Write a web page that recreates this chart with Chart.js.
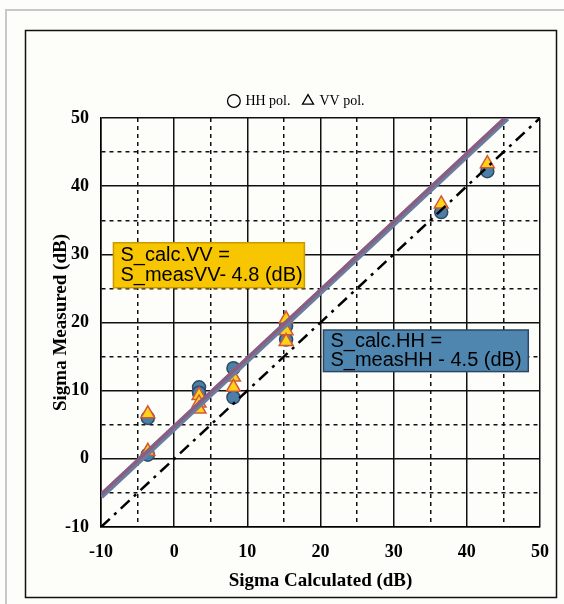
<!DOCTYPE html>
<html>
<head>
<meta charset="utf-8">
<script src="https://cdn.jsdelivr.net/npm/chart.js@4.4.0/dist/chart.umd.min.js"></script>
<style>
  html, body { margin: 0; padding: 0; background: #ffffff; }
  #wrap { width: 564px; height: 604px; }
</style>
</head>
<body>
<div id="wrap"><canvas id="chart" width="564" height="604"></canvas></div>
<script>
// Datos
const hhX = [-3.6, -3.6, 3.4, 3.4, 8.1, 8.1, 15.3, 15.3, 36.5, 42.8];
const hhY = [6.0, 0.6, 10.5, 9.7, 13.3, 9.0, 19.5, 17.5, 36.2, 42.2];
const vvX = [-3.6, -3.6, 3.4, 3.4, 3.4, 8.1, 8.1, 15.3, 15.3, 15.3, 36.5, 42.8];
const vvY = [6.6, 1.1, 9.3, 8.2, 7.3, 12.0, 10.5, 20.5, 18.8, 17.2, 37.4, 43.3];

// Rectas de ajuste (S_calc = S_meas - offset) y recta 1:1
const fitHHX = [-10, 45.5];
const fitHHY = [-5.5, 50];
const fitVVX = [-10, 45.2];
const fitVVY = [-5.2, 50];
const idX = [-10, 50];
const idY = [-10, 50];

const axisMin = -10;
const axisMax = 50;

const seriesNames = ['HH pol.', 'VV pol.'];
const noteVV = ['S_calc.VV =', 'S_measVV- 4.8 (dB)'];
const noteHH = ['S_calc.HH =', 'S_measHH - 4.5 (dB)'];

function toPoints(xs, ys) {
    return xs.map((x, i) => ({ x: x, y: ys[i] }));
}

// Fondo y marcos de la página
const framePlugin = {
    id: 'frame',
    beforeDraw(chart) {
        const c = chart.ctx;
        c.save();
        c.fillStyle = '#fdfdf9';
        c.fillRect(0, 0, chart.width, chart.height);
        c.strokeStyle = '#c8c8c8';
        c.lineWidth = 2;
        c.beginPath();
        c.moveTo(6, chart.height);
        c.lineTo(6, 10);
        c.lineTo(chart.width, 10);
        c.stroke();
        c.strokeStyle = '#111';
        c.lineWidth = 1.5;
        c.strokeRect(25.5, 30.5, 531, 567);
        c.restore();
    }
};

// Cajas de texto con las ecuaciones
function drawNote(chart, lines, x0, x1, y0, y1, fill, border) {
    const c = chart.ctx;
    const sx = chart.scales.x, sy = chart.scales.y;
    const l = sx.getPixelForValue(x0), r = sx.getPixelForValue(x1);
    const t = sy.getPixelForValue(y0), b = sy.getPixelForValue(y1);
    c.save();
    c.fillStyle = fill;
    c.fillRect(l, t, r - l, b - t);
    c.strokeStyle = border;
    c.lineWidth = 1.5;
    c.strokeRect(l, t, r - l, b - t);
    c.fillStyle = '#000';
    c.font = '20px "Liberation Sans", Arial, sans-serif';
    c.textBaseline = 'middle';
    c.fillText(lines[0], l + 7, t + (b - t) * 0.28);
    c.fillText(lines[1], l + 7, t + (b - t) * 0.73);
    c.restore();
}

const notesPlugin = {
    id: 'notes',
    afterDraw(chart) {
        drawNote(chart, noteVV, -8.3, 17.8, 31.7, 25.1, '#f7c600', '#c99a00');
        drawNote(chart, noteHH, 20.4, 48.4, 18.9, 12.8, '#4f86b0', '#2b4763');
    }
};

const serif = '"Liberation Serif", "Times New Roman", serif';

function gridDash(ctx) {
    if (!ctx.tick) return [];
    return ctx.tick.value % 10 === 0 ? [] : [4, 4];
}

new Chart(document.getElementById('chart'), {
    type: 'scatter',
    data: {
        datasets: [
            {
                label: 'fitVV',
                data: toPoints(fitVVX, fitVVY),
                showLine: true,
                borderColor: '#8a5e80',
                borderWidth: 3.5,
                pointRadius: 0
            },
            {
                label: 'fitHH',
                data: toPoints(fitHHX, fitHHY),
                showLine: true,
                borderColor: '#6a7ca0',
                borderWidth: 6,
                pointRadius: 0
            },
            {
                label: 'identity',
                data: toPoints(idX, idY),
                showLine: true,
                borderColor: '#000',
                borderWidth: 2.5,
                borderDash: [12, 6, 3, 6],
                pointRadius: 0
            },
            {
                label: seriesNames[1],
                data: toPoints(vvX, vvY),
                pointStyle: 'triangle',
                pointRadius: 8,
                backgroundColor: '#ffd21a',
                borderColor: '#d0583a',
                borderWidth: 1.5
            },
            {
                label: seriesNames[0],
                data: toPoints(hhX, hhY),
                pointStyle: 'circle',
                pointRadius: 6.5,
                backgroundColor: '#4a7fa8',
                borderColor: '#2e4a66',
                borderWidth: 1.5
            }
        ]
    },
    options: {
        responsive: false,
        animation: false,
        layout: {
            padding: { left: 50, right: 20, top: 81, bottom: 12 }
        },
        plugins: {
            legend: {
                display: true,
                position: 'top',
                labels: {
                    usePointStyle: true,
                    boxWidth: 9,
                    boxHeight: 9,
                    padding: 13,
                    color: '#000',
                    font: { family: serif, size: 14 },
                    generateLabels() {
                        return [
                            { text: seriesNames[0], pointStyle: 'circle', fillStyle: 'rgba(0,0,0,0)', strokeStyle: '#000', lineWidth: 1.3, datasetIndex: 4 },
                            { text: seriesNames[1], pointStyle: 'triangle', fillStyle: 'rgba(0,0,0,0)', strokeStyle: '#000', lineWidth: 1.3, datasetIndex: 3 }
                        ];
                    }
                }
            },
            tooltip: { enabled: false }
        },
        scales: {
            x: {
                type: 'linear',
                min: axisMin,
                max: axisMax,
                afterFit(scale) { scale.height = 65; },
                ticks: {
                    stepSize: 5,
                    padding: 15,
                    color: '#000',
                    font: { family: serif, size: 18, weight: 'bold' },
                    callback: v => (v % 10 === 0 ? v : '')
                },
                grid: { color: '#111', lineWidth: 1.5, drawTicks: false },
                border: { display: true, color: '#000', width: 1.5, dash: gridDash },
                title: {
                    display: true,
                    text: 'Sigma Calculated (dB)',
                    color: '#000',
                    font: { family: serif, size: 19, weight: 'bold' },
                    padding: { top: 0, bottom: 0 }
                }
            },
            y: {
                type: 'linear',
                min: axisMin,
                max: axisMax,
                afterFit(scale) { scale.width = 51; },
                ticks: {
                    stepSize: 5,
                    padding: 12,
                    color: '#000',
                    font: { family: serif, size: 18, weight: 'bold' },
                    callback: v => (v % 10 === 0 ? v : '')
                },
                grid: { color: '#111', lineWidth: 1.5, drawTicks: false },
                border: { display: true, color: '#000', width: 1.5, dash: gridDash },
                title: {
                    display: true,
                    text: 'Sigma Measured (dB)',
                    color: '#000',
                    font: { family: serif, size: 19, weight: 'bold' },
                    padding: { top: 0, bottom: 0 }
                }
            }
        }
    },
    plugins: [framePlugin, notesPlugin]
});
</script>
</body>
</html>
